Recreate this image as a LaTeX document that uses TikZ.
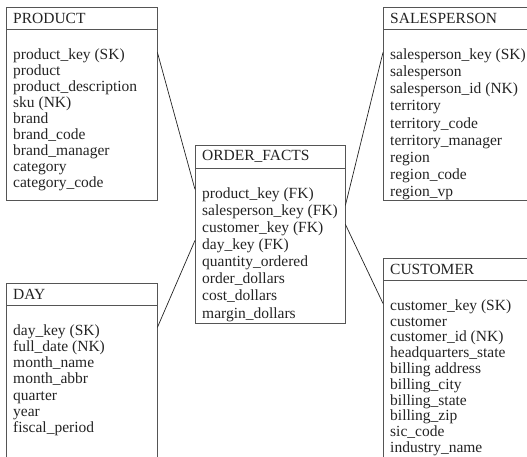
\documentclass[tikz,border=0pt]{standalone}
\usepackage{fontspec}
\setmainfont{Liberation Serif}
\usepackage{tikz}
\usetikzlibrary{positioning}
\definecolor{framegray}{RGB}{85,85,85}
\definecolor{inkgray}{RGB}{35,35,35}
\newcommand{\attrs}[3]{\parbox[t][#1][t]{#2}{\vspace*{19pt}#3}}

\begin{document}
\begin{tikzpicture}[
  x=1pt, y=-1pt,
  tabhead/.style={draw=framegray, anchor=north west, minimum height=22pt,
                  inner xsep=7pt, inner ysep=0pt, align=left, text=inkgray,
                  font=\fontsize{15.5}{16}\selectfont},
  tabbody/.style={draw=framegray, anchor=north west, inner xsep=7pt,
                  inner ysep=0pt, text=inkgray, font=\fontsize{15.5}{#1}\selectfont},
  link/.style={draw=inkgray, line width=0.7pt}
]
  \useasboundingbox (0,0) rectangle (527,456);
  \clip (0,0) rectangle (527,456);

  % Dimension tables and fact table
  \node[tabhead, text width=137pt] (product) at (6,7) {PRODUCT};
  \node[tabbody=16pt] (productbody) at (product.south west)
    {\attrs{171pt}{137pt}{product\_key (SK)\\product\\product\_description\\sku (NK)\\brand\\brand\_code\\brand\_manager\\category\\category\_code}};

  \node[tabhead, text width=146pt] (sales) at (383,7) {SALESPERSON};
  \node[tabbody=17.2pt] (salesbody) at (sales.south west)
    {\attrs{171pt}{146pt}{salesperson\_key (SK)\\salesperson\\salesperson\_id (NK)\\territory\\territory\_code\\territory\_manager\\region\\region\_code\\region\_vp}};

  \node[tabhead, text width=136pt, minimum height=23pt] (facts) at (195,145) {ORDER\_FACTS};
  \node[tabbody=17.1pt] (factsbody) at (facts.south west)
    {\attrs{155pt}{136pt}{product\_key (FK)\\salesperson\_key (FK)\\customer\_key (FK)\\day\_key (FK)\\quantity\_ordered\\order\_dollars\\cost\_dollars\\margin\_dollars}};

  \node[tabhead, text width=137pt] (day) at (6,283) {DAY};
  \node[tabbody=16.2pt] (daybody) at (day.south west)
    {\attrs{170pt}{137pt}{day\_key (SK)\\full\_date (NK)\\month\_name\\month\_abbr\\quarter\\year\\fiscal\_period}};

  \node[tabhead, text width=146pt] (cust) at (383,258) {CUSTOMER};
  \node[tabbody=15.8pt] (custbody) at (cust.south west)
    {\attrs{200pt}{146pt}{customer\_key (SK)\\customer\\customer\_id (NK)\\headquarters\_state\\billing address\\billing\_city\\billing\_state\\billing\_zip\\sic\_code\\industry\_name}};

  % Key links
  \draw[link] ([yshift=-23pt]productbody.north east) -- ([yshift=-21pt]factsbody.north west);
  \draw[link] ([yshift=-37pt]factsbody.north east) -- ([yshift=-23pt]salesbody.north west);
  \draw[link] ([yshift=-56pt]factsbody.north east) -- ([yshift=-23pt]custbody.north west);
  \draw[link] ([yshift=-72pt]factsbody.north west) -- ([yshift=-22pt]daybody.north east);
\end{tikzpicture}
\end{document}
